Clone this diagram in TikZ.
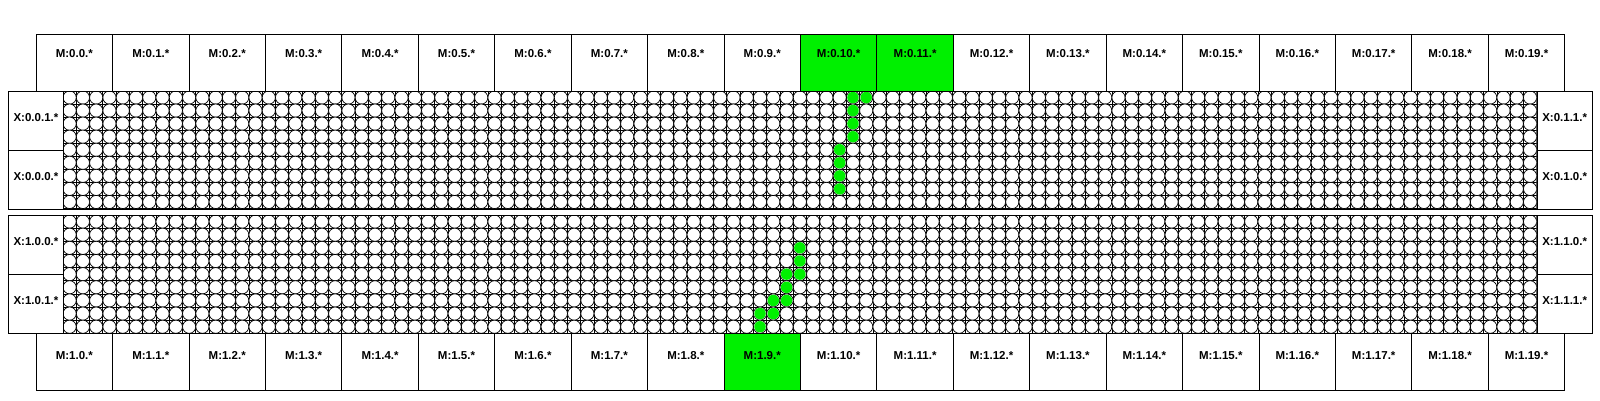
\documentclass[tikz,border=0pt]{standalone}
\usepackage{fontspec}
\setmainfont{Liberation Sans}
\definecolor{gfill}{RGB}{0,240,0}
\tikzset{
 box/.style={draw=black, line width=0.9pt, inner sep=0pt, font=\fontsize{11.5}{13}\selectfont\bfseries, anchor=north west},
 mtop/.style={box, minimum width=76.43pt, minimum height=56.7pt, text height=8.5pt, text depth=20.2pt},
 mbot/.style={box, minimum width=76.43pt, minimum height=56.7pt, text height=8.5pt, text depth=13.6pt},
 xlab/.style={box, minimum width=55pt, text height=8.5pt, text depth=7.5pt},
 band/.style={draw=black, line width=0.9pt, inner sep=0pt, anchor=north west, minimum width=1473.7pt},
 dot/.style={draw=black, fill=white, line width=0.7pt},
 gdot/.style={fill=gfill},
 gline/.style={draw=black, line width=0.7pt},
}
\begin{document}
\begin{tikzpicture}[x=1pt,y=-1pt]
\useasboundingbox (0,0) rectangle (1600,400);
\pgfmathsetmacro\sx{1473.7/111}
% circle grids
\foreach \yt/\h in {91/117.5, 215/118.3} {
  \pgfmathsetmacro\sy{\h/9}
  \begin{scope}
    \clip (63,\yt) rectangle ++(1473.7,\h);
    \foreach \i in {0,...,111} \draw[gline] ({63+\i*\sx},\yt) -- ++(0,\h);
    \foreach \j in {0,...,9} \draw[gline] (63,{\yt+\j*\sy}) -- ++(1473.7,0);
    \foreach \i in {0,...,110} {
      \foreach \j in {0,...,8} {
        \draw[dot] ({63+(\i+0.5)*\sx},{\yt+(\j+0.5)*\sy}) circle (6.6pt);
      }
    }
  \end{scope}
}
% highlighted cells
\foreach \cc/\rr in {60/0,59/0,59/1,59/2,59/3,58/4,58/5,58/6,58/7}
  \fill[gdot] ({63+(\cc+0.5)*\sx},{91+(\rr+0.5)*117.5/9}) circle (5.75pt);
\foreach \cc/\rr in {55/2,55/3,55/4,54/4,54/5,54/6,53/6,53/7,52/7,52/8}
  \fill[gdot] ({63+(\cc+0.5)*\sx},{215+(\rr+0.5)*118.3/9}) circle (5.75pt);
% band frames
\node[band, minimum height=117.5pt] (b0) at (63,91) {};
\node[band, minimum height=118.3pt] (b1) at (63,215) {};
% side labels
\node[xlab, minimum height=59pt]   (xl001) at (8,91)      {X:0.0.1.*};
\node[xlab, minimum height=58.5pt] (xl000) at (8,150)     {X:0.0.0.*};
\node[xlab, minimum height=59pt]   (xr011) at (1536.7,91)  {X:0.1.1.*};
\node[xlab, minimum height=58.5pt] (xr010) at (1536.7,150) {X:0.1.0.*};
\node[xlab, minimum height=59.3pt] (xl100) at (8,215)      {X:1.0.0.*};
\node[xlab, minimum height=59pt]   (xl101) at (8,274.3)    {X:1.0.1.*};
\node[xlab, minimum height=59.3pt] (xr110) at (1536.7,215) {X:1.1.0.*};
\node[xlab, minimum height=59pt]   (xr111) at (1536.7,274.3) {X:1.1.1.*};
% M boxes
\foreach \i in {0,...,19} {
  \pgfmathsetmacro\mx{35.7+\i*76.43}
  \edef\ct{\ifnum\i=10 gfill\else\ifnum\i=11 gfill\else white\fi\fi}
  \edef\cb{\ifnum\i=9 gfill\else white\fi}
  \node[mtop, fill=\ct] (mt\i) at (\mx,34.3) {M:0.\i.*};
  \node[mbot, fill=\cb] (mb\i) at (\mx,333.3) {M:1.\i.*};
}
\end{tikzpicture}
\end{document}
